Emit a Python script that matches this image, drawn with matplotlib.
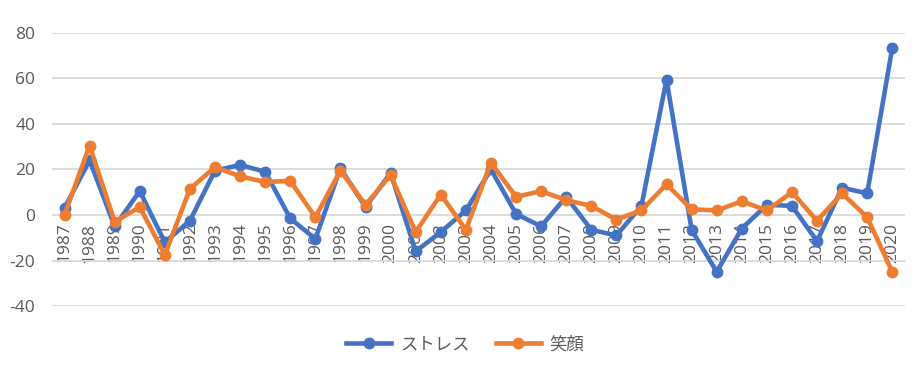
import matplotlib
matplotlib.use("Agg")
import matplotlib.pyplot as plt

plt.rcParams['font.family'] = ['Open Sans', 'Noto Sans CJK JP']
plt.rcParams['axes.unicode_minus'] = False

years = [str(y) for y in range(1987, 2021)]
stress = [3, 24, -5, 10.5, -12, -2.5, 19.5, 22, 19, -1.5, -10.5, 20.5, 3.5, 18.5,
          -16, -7.5, 2, 20, 0.5, -5, 8, -6.5, -9, 4, 59.5, -6.5, -25, -6, 4.5, 4,
          -11.5, 12, 9.5, 73.5]
smile = [0, 30.5, -3, 3.5, -17.5, 11.5, 21, 17, 14.5, 15, -1, 19.5, 4.5, 17.5,
         -7.5, 9, -6.5, 23, 8, 10.5, 6.5, 4, -2, 2, 13.5, 2.5, 2, 6, 2, 10,
         -2.5, 9.5, -1, -25]

fig = plt.figure(figsize=(9.23, 3.69), dpi=100)
ax = fig.add_axes([0.0563, 0.1707, 0.924, 0.740])

x = range(len(years))
ax.plot(x, stress, '-o', color='#4472C4', lw=3.3, ms=7.5, label='ストレス', zorder=3)
ax.plot(x, smile, '-o', color='#ED7D31', lw=3.3, ms=7.5, label='笑顔', zorder=4)

ax.set_xlim(-0.5, len(years) - 0.5)
ax.set_ylim(-40, 80)
ax.set_yticks(range(-40, 81, 20))
ax.grid(axis='y', color='#D9D9D9', lw=1.3)
ax.set_axisbelow(True)

for s in ['top', 'right', 'left']:
    ax.spines[s].set_visible(False)
ax.spines['bottom'].set_position(('data', 0))
ax.spines['bottom'].set_visible(False)

ax.set_xticks(list(x))
ax.set_xticklabels(years, rotation=90)
ax.tick_params(axis='both', length=0, labelsize=12.5, colors='#595959')
ax.tick_params(axis='x', pad=5.5)
ax.tick_params(axis='y', pad=12)

fig.legend(loc='center', bbox_to_anchor=(0.504, 0.065), ncol=2, frameon=False,
           fontsize=12.5, handlelength=2.6, handletextpad=0.5,
           labelcolor='#595959', columnspacing=1.5)

fig.savefig('out.png', dpi=100)
